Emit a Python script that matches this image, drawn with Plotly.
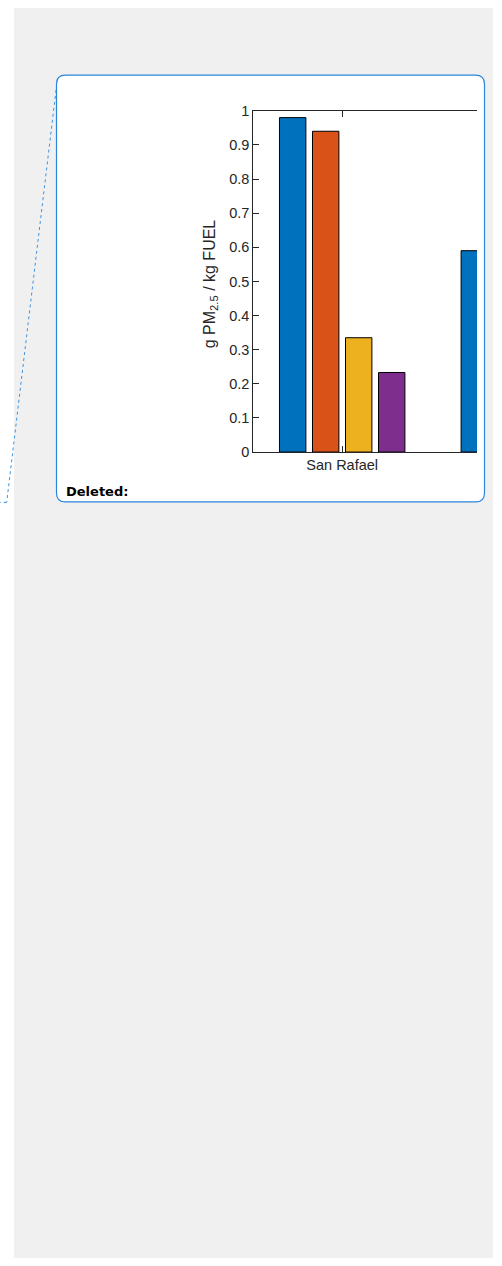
import plotly.graph_objects as go

# ---- data ----
categories = ["San Rafael", "Site 2"]
series_names = ["Series 1", "Series 2", "Series 3", "Series 4"]
series_1 = [0.98, 0.59]
series_2 = [0.94, None]
series_3 = [0.335, None]
series_4 = [0.233, None]
y_tick_vals = [0, 0.1, 0.2, 0.3, 0.4, 0.5, 0.6, 0.7, 0.8, 0.9, 1]
y_tick_text = ["0", "0.1", "0.2", "0.3", "0.4", "0.5", "0.6", "0.7", "0.8", "0.9", "1"]
x_tick_vals = ["San Rafael"]
x_tick_text = ["San Rafael"]

colors = ["#0072BD", "#D95319", "#EDB120", "#7E2F8E"]

W, H = 502, 1266
Y_OFF, H_EFF = 8.0, 1249.0  # observed placement of the rendered page


def px(x):
    return x / W


def py(y):
    return min(1.0, max(0.0, 1 - (y - Y_OFF) / H_EFF))


fig = go.Figure()
for name, vals, c in zip(series_names, [series_1, series_2, series_3, series_4], colors):
    fig.add_trace(go.Bar(
        x=categories, y=vals, name=name,
        marker=dict(color=c, line=dict(color="#000000", width=1)),
        showlegend=False,
    ))

axis_col = "#262626"
tick_font = dict(family="Liberation Sans, Arial, Helvetica", size=14.5, color=axis_col)

# balloon geometry (pixels)
bx0, bx1, by0, by1, r = 56.5, 484.5, 75, 501.5, 9


def P(x, y):
    return f"{px(x):.6f},{py(y):.6f}"


balloon = (f"M {P(bx0 + r, by0)} L {P(bx1 - r, by0)} Q {P(bx1, by0)} {P(bx1, by0 + r)} "
           f"L {P(bx1, by1 - r)} Q {P(bx1, by1)} {P(bx1 - r, by1)} "
           f"L {P(bx0 + r, by1)} Q {P(bx0, by1)} {P(bx0, by1 - r)} "
           f"L {P(bx0, by0 + r)} Q {P(bx0, by0)} {P(bx0 + r, by0)} Z")

shapes = [
    dict(type="rect", xref="paper", yref="paper", x0=px(14), x1=px(493), y0=0, y1=1,
         fillcolor="#f0f0f0", line=dict(width=0), layer="below"),
    dict(type="line", xref="paper", yref="paper", x0=px(57.5), y0=py(78), x1=px(6.7), y1=py(502),
         line=dict(color="#3f93e0", width=1, dash="dot"), layer="below"),
    dict(type="line", xref="paper", yref="paper", x0=px(6.7), y0=py(502), x1=0, y1=py(502),
         line=dict(color="#3f93e0", width=1, dash="dot"), layer="below"),
    dict(type="path", xref="paper", yref="paper", path=balloon,
         fillcolor="#ffffff", line=dict(color="#2a86db", width=1.2), layer="below"),
]

fig.update_layout(
    width=W, height=H,
    margin=dict(l=0, r=0, t=0, b=0),
    paper_bgcolor="#ffffff",
    plot_bgcolor="rgba(0,0,0,0)",
    barmode="group",
    bargap=0.273,
    bargroupgap=0.2,
    shapes=shapes,
    xaxis=dict(
        domain=[px(253.3), px(477)],
        range=[-0.4895, 0.7423],
        tickmode="array", tickvals=x_tick_vals, ticktext=x_tick_text,
        showline=True, linecolor=axis_col, linewidth=1,
        mirror="ticks",
        ticks="inside", ticklen=6, tickcolor=axis_col, tickwidth=1,
        tickfont=tick_font,
        showgrid=False, zeroline=False,
        fixedrange=True,
    ),
    yaxis=dict(
        domain=[py(451.7), py(110.7)],
        range=[0, 1],
        tickvals=y_tick_vals, ticktext=y_tick_text,
        showline=True, linecolor=axis_col, linewidth=1,
        mirror=False,
        ticks="inside", ticklen=6, tickcolor=axis_col, tickwidth=1,
        tickfont=tick_font,
        showgrid=False, zeroline=False,
        fixedrange=True,
    ),
    annotations=[
        dict(xref="paper", yref="paper", x=px(210), y=py(284), xanchor="center", yanchor="middle",
             text="g PM<sub>2.5</sub> / kg FUEL", textangle=-90, showarrow=False,
             font=dict(family="Liberation Sans, Arial, Helvetica", size=16, color=axis_col)),
        dict(xref="paper", yref="paper", x=px(64), y=py(491), xanchor="left", yanchor="middle",
             text="<b>Deleted:</b>", showarrow=False,
             font=dict(family="DejaVu Sans, Verdana", size=13, color="#000000")),
    ],
)

fig.write_html("out.html")
